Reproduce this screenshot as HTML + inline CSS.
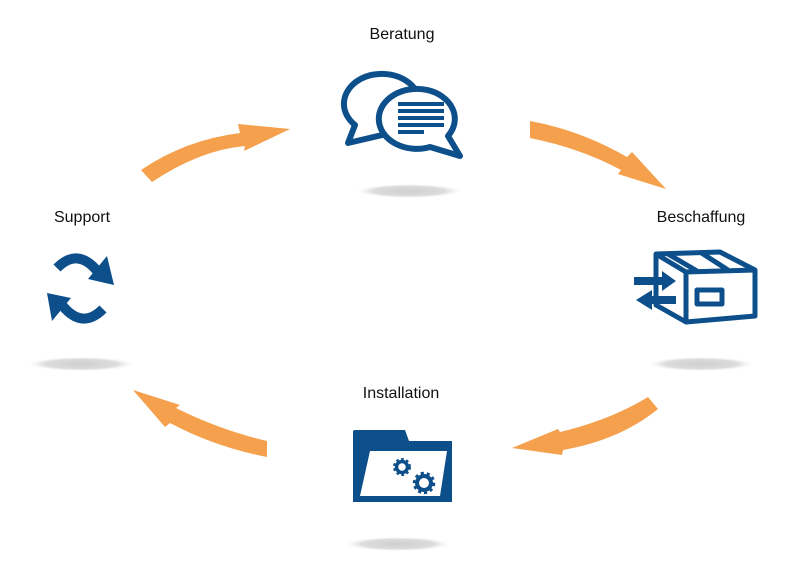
<!DOCTYPE html>
<html><head><meta charset="utf-8"><style>
html,body{margin:0;padding:0;background:#fff;}
svg{display:block}
text{font-family:"Liberation Sans",sans-serif;font-size:16px;fill:#111}
</style></head><body>
<svg width="792" height="575" viewBox="0 0 792 575" xmlns="http://www.w3.org/2000/svg">
<defs>
<radialGradient id="sh" cx="50%" cy="50%" r="50%">
<stop offset="0" stop-color="#cfcfcf"/><stop offset="0.7" stop-color="#dcdcdc"/><stop offset="1" stop-color="#f0f0f0" stop-opacity="0"/>
</radialGradient>
</defs>
<text x="402" y="39" text-anchor="middle">Beratung</text>
<text x="701" y="222" text-anchor="middle">Beschaffung</text>
<text x="401" y="398" text-anchor="middle">Installation</text>
<text x="82" y="222" text-anchor="middle">Support</text>

<ellipse cx="409" cy="191" rx="52" ry="7" fill="url(#sh)"/>
<ellipse cx="701" cy="364" rx="52" ry="7" fill="url(#sh)"/>
<ellipse cx="398" cy="544" rx="52" ry="7" fill="url(#sh)"/>
<ellipse cx="81" cy="364" rx="52" ry="7" fill="url(#sh)"/>

<g fill="#f5a04c">
<path d="M141,170 Q185,140 240,133 L238,124 L290,129 L244,151 L245,146 Q200,150 152,182 Z"/>
<path d="M530,121 Q580,130 627,157 L632,152 L666,189 L618,174 L621,170 Q580,148 530,138 Z"/>
<path d="M648,397 Q610,420 560,432 L558,429 L512,448 L562,455 L563,450 Q620,440 658,409 Z"/>
<path d="M267,441 Q220,430 176,408 L180,405 L133,390 L165,427 L170,423 Q215,447 267,457 Z"/>
</g>

<g stroke="#0d4f8b" stroke-width="6" fill="#fff" stroke-linejoin="round">
<path d="M355,125 A38,30 0 1 1 395,132 L348,143 Z"/>
<path d="M448,136 A38,30 0 1 0 430,147 L460,156 Z"/>
</g>
<g stroke="#0d4f8b" stroke-width="4">
<line x1="398" y1="104" x2="444" y2="104"/>
<line x1="398" y1="111" x2="444" y2="111"/>
<line x1="398" y1="118" x2="444" y2="118"/>
<line x1="398" y1="125" x2="444" y2="125"/>
<line x1="398" y1="132" x2="424" y2="132"/>
</g>

<g stroke="#0d4f8b" stroke-width="5" fill="none" stroke-linejoin="round">
<path d="M656,305 L656,254 L720,252 L755,270 L755,316 L686,322 Z"/>
<path d="M656,254 L686,272 L755,270 M686,272 L686,322"/>
<path d="M668,254 L697,271 M700,252 L728,270"/>
<rect x="697" y="290" width="25" height="14"/>
</g>
<g fill="#0d4f8b">
<path d="M634,277 L662,277 L662,271 L676,281 L662,291 L662,285 L634,285 Z"/>
<path d="M676,296 L652,296 L652,290 L636,300 L652,310 L652,304 L676,304 Z"/>
</g>

<path d="M353,432 Q353,430 355,430 L405,430 L409,441 L452,441 L452,502 L353,502 Z" fill="#0d4f8b"/>
<path d="M370,451 L447,451 L440,496 L360,496 Z" fill="#fff"/>
<g fill="none" stroke="#0d4f8b">
<circle cx="402" cy="467" r="5.5" stroke-width="3.5"/>
<circle cx="402" cy="467" r="7.5" stroke-width="3" stroke-dasharray="2.5 2.4"/>
<circle cx="424" cy="483" r="7" stroke-width="4"/>
<circle cx="424" cy="483" r="9.5" stroke-width="3.5" stroke-dasharray="3 2.9"/>
</g>

<g fill="none" stroke="#0d4f8b" stroke-width="10">
<path d="M57,268 Q78,247 98,272"/>
<path d="M103,309 Q82,330 62,305"/>
</g>
<g fill="#0d4f8b">
<path d="M107,256 L114,285 L88,279 Z"/>
<path d="M47,293 L71,298 L52,321 Z"/>
</g>
</svg>
</body></html>
